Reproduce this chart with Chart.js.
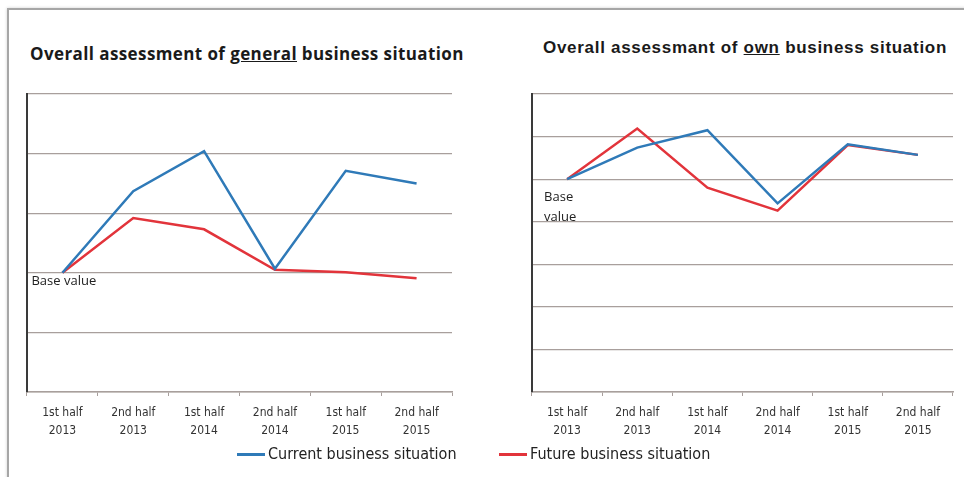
<!DOCTYPE html>
<html lang="en">
<head>
  <meta charset="UTF-8">
  <title>Business situation assessment</title>
  <script src="https://cdn.jsdelivr.net/npm/chart.js"></script>
  <style>
    body { margin: 0; width: 964px; height: 477px; background: #ffffff; position: relative; overflow: hidden; }
    .frame { position: absolute; left: 7px; top: 8px; width: 980px; height: 490px; border: 2px solid #a6a6a6; box-shadow: 0 0 3px #d0d0d0; }
    .title { position: absolute; font-weight: bold; color: #1a1a1a; white-space: nowrap; }
    #t1 { left: 30px; top: 42px; font-family: "Open Sans", sans-serif; font-size: 17px; letter-spacing: 0.4px; }
    #t2 { left: 543px; top: 38px; font-family: "Liberation Sans", Arial, sans-serif; font-size: 17px; letter-spacing: 0.7px; }
    canvas { position: absolute; }
    #c1 { left: 0; top: 80px; }
    #c2 { left: 480px; top: 80px; }
    .legend { position: absolute; top: 444px; font-family: "DejaVu Sans Condensed", sans-serif; font-size: 16px; color: #222; white-space: nowrap; }
    .legend span.sw { display: inline-block; width: 28px; height: 3px; vertical-align: middle; margin-right: 3px; }
  </style>
</head>
<body>
  <div class="frame"></div>
  <div class="title" id="t1">Overall assessment of <u>general</u> business situation</div>
  <div class="title" id="t2">Overall assessmant of <u>own</u> business situation</div>
  <canvas id="c1" width="470" height="371"></canvas>
  <canvas id="c2" width="484" height="371"></canvas>
  <div class="legend" style="left:237px"><span class="sw" style="background:#2f7ab8"></span>Current business situation</div>
  <div class="legend" style="left:499px"><span class="sw" style="background:#e2343b"></span>Future business situation</div>

  <script>
    const periods = [
      ['1st half', '2013'], ['2nd half', '2013'], ['1st half', '2014'],
      ['2nd half', '2014'], ['1st half', '2015'], ['2nd half', '2015']
    ];

    // general business situation (base value = 2)
    const generalCurrent = [2.0, 3.37, 4.04, 2.07, 3.71, 3.5];
    const generalFuture = [2.0, 2.92, 2.73, 2.05, 2.01, 1.91];

    // own business situation (base value = 5)
    const ownCurrent = [5.0, 5.74, 6.15, 4.43, 5.82, 5.57];
    const ownFuture = [5.0, 6.19, 4.8, 4.26, 5.8, 5.57];

    const blue = '#2f7ab8';
    const red = '#e2343b';
    const gridColor = '#a89f9c';

    const baseLabel = {
      id: 'baseLabel',
      afterDatasetsDraw(chart, args, opts) {
        const ctx = chart.ctx;
        const x = chart.scales.x.getPixelForValue(0);
        const y = chart.scales.y.getPixelForValue(opts.value);
        ctx.save();
        ctx.font = '13px "Open Sans", sans-serif';
        ctx.fillStyle = '#222';
        ctx.textBaseline = 'middle';
        opts.lines.forEach((t, i) => ctx.fillText(t, x + opts.dx, y + opts.dy + i * 20));
        ctx.restore();
      }
    };

    function makeChart(id, current, future, yMax, base, labelOpts, pad) {
      new Chart(document.getElementById(id), {
        type: 'line',
        data: {
          labels: periods,
          datasets: [
            { label: 'Current business situation', data: current, borderColor: blue, borderWidth: 2.5, pointRadius: 0, tension: 0 },
            { label: 'Future business situation', data: future, borderColor: red, borderWidth: 2.5, pointRadius: 0, tension: 0 }
          ]
        },
        options: {
          responsive: false,
          animation: false,
          layout: { padding: pad },
          plugins: {
            legend: { display: false },
            tooltip: { enabled: false },
            baseLabel: Object.assign({ value: base }, labelOpts)
          },
          scales: {
            x: {
              offset: true,
              grid: { display: true, offset: true, drawOnChartArea: false, drawTicks: true, tickLength: 4, color: gridColor },
              border: { display: true, color: gridColor, width: 1.5 },
              ticks: { color: '#333', font: { family: '"DejaVu Sans Condensed", sans-serif', size: 12, lineHeight: 1.5 }, padding: 8, maxRotation: 0 }
            },
            y: {
              min: 0, max: yMax,
              ticks: { display: false, stepSize: 1 },
              grid: { color: gridColor, lineWidth: 1.2, drawTicks: false },
              border: { display: true, color: '#3a3a3a', width: 2 }
            }
          }
        },
        plugins: [baseLabel]
      });
    }

    makeChart('c1', generalCurrent, generalFuture, 5, 2,
      { lines: ['Base value'], dx: -31, dy: 8 },
      { left: 27, right: 18, top: 14, bottom: 3 });
    makeChart('c2', ownCurrent, ownFuture, 7, 5,
      { lines: ['Base', 'value'], dx: -23, dy: 18 },
      { left: 52, right: 11, top: 14, bottom: 3 });
  </script>
</body>
</html>
